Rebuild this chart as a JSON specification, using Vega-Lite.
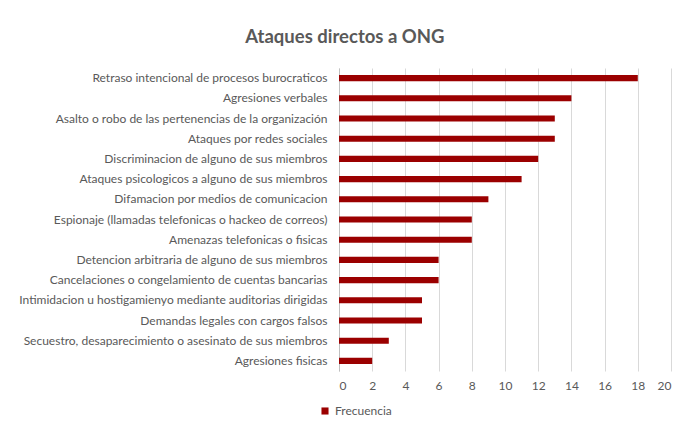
{
  "$schema": "https://vega.github.io/schema/vega-lite/v6.json",
  "width": 332,
  "height": 303,
  "autosize": {"type": "none"},
  "padding": {"left": 339, "top": 68, "right": 18, "bottom": 55},
  "background": "white",
  "title": {
    "text": "Ataques directos a ONG",
    "frame": "bounds",
    "anchor": "middle",
    "font": "Lato",
    "fontSize": 18.5,
    "fontWeight": "bold",
    "color": "#595959",
    "offset": 22
  },
  "data": {
    "values": [
      {"ataque": "Retraso intencional de procesos burocraticos", "frecuencia": 18, "serie": "Frecuencia"},
      {"ataque": "Agresiones verbales", "frecuencia": 14, "serie": "Frecuencia"},
      {"ataque": "Asalto o robo de las pertenencias de la organización", "frecuencia": 13, "serie": "Frecuencia"},
      {"ataque": "Ataques por redes sociales", "frecuencia": 13, "serie": "Frecuencia"},
      {"ataque": "Discriminacion de alguno de sus miembros", "frecuencia": 12, "serie": "Frecuencia"},
      {"ataque": "Ataques psicologicos a alguno de sus miembros", "frecuencia": 11, "serie": "Frecuencia"},
      {"ataque": "Difamacion por medios de comunicacion", "frecuencia": 9, "serie": "Frecuencia"},
      {"ataque": "Espionaje (llamadas telefonicas o hackeo de correos)", "frecuencia": 8, "serie": "Frecuencia"},
      {"ataque": "Amenazas telefonicas o fisicas", "frecuencia": 8, "serie": "Frecuencia"},
      {"ataque": "Detencion arbitraria de alguno de sus miembros", "frecuencia": 6, "serie": "Frecuencia"},
      {"ataque": "Cancelaciones o congelamiento de cuentas bancarias", "frecuencia": 6, "serie": "Frecuencia"},
      {"ataque": "Intimidacion u hostigamienyo mediante auditorias dirigidas", "frecuencia": 5, "serie": "Frecuencia"},
      {"ataque": "Demandas legales con cargos falsos", "frecuencia": 5, "serie": "Frecuencia"},
      {"ataque": "Secuestro, desaparecimiento o asesinato de sus miembros", "frecuencia": 3, "serie": "Frecuencia"},
      {"ataque": "Agresiones fisicas", "frecuencia": 2, "serie": "Frecuencia"}
    ]
  },
  "mark": {"type": "bar"},
  "encoding": {
    "y": {
      "field": "ataque",
      "type": "nominal",
      "sort": null,
      "title": null,
      "scale": {"paddingInner": 0.7, "paddingOuter": 0.35},
      "axis": {
        "domain": true,
        "domainColor": "#bfbfbf",
        "ticks": false,
        "labelPadding": 12,
        "labelFont": "Lato",
        "labelFontSize": 12,
        "labelColor": "#595959",
        "labelLimit": 400
      }
    },
    "x": {
      "field": "frecuencia",
      "type": "quantitative",
      "title": null,
      "scale": {"domain": [0, 20], "nice": false},
      "axis": {
        "values": [0, 2, 4, 6, 8, 10, 12, 14, 16, 18, 20],
        "domain": false,
        "ticks": false,
        "grid": true,
        "gridColor": "#d9d9d9",
        "labelPadding": 9,
        "labelFont": "Lato",
        "labelFontSize": 12,
        "labelColor": "#595959"
      }
    },
    "color": {
      "field": "serie",
      "type": "nominal",
      "scale": {"range": ["#9b0000"]},
      "legend": {
        "title": null,
        "orient": "none",
        "legendX": -20,
        "legendY": 337,
        "symbolType": "square",
        "symbolSize": 50,
        "labelFont": "Lato",
        "labelFontSize": 12,
        "labelColor": "#595959",
        "labelOffset": 4
      }
    }
  },
  "config": {"view": {"stroke": null}}
}
